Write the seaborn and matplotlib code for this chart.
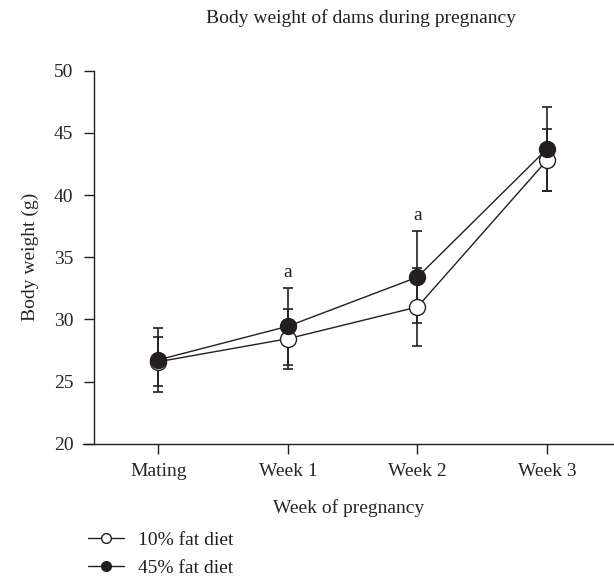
import numpy as np
import pandas as pd
import matplotlib
matplotlib.use("Agg")
import matplotlib.pyplot as plt
from matplotlib.lines import Line2D
import seaborn as sns

categories = ["Mating", "Week 1", "Week 2", "Week 3"]
low_fat_mean = [26.6, 28.45, 31.0, 42.8]
low_fat_sd = [1.95, 2.4, 3.15, 2.5]
high_fat_mean = [26.75, 29.45, 33.4, 43.7]
high_fat_sd = [2.6, 3.1, 3.7, 3.4]
series_names = ["10% fat diet", "45% fat diet"]
sig_marks = ["", "a", "a", ""]
y_ticks = [20, 25, 30, 35, 40, 45, 50]

sns.set_theme(style="white")
plt.rcParams["font.family"] = ["Liberation Serif", "DejaVu Serif"]
plt.rcParams["text.color"] = "#231f20"

FS = 14
fig = plt.figure(figsize=(6.14, 5.79), dpi=100)
ax = fig.add_axes([0.1358, 0.2335, 0.8642, 0.6444])

x = np.arange(len(categories))
df = pd.DataFrame({
    "pos": np.concatenate([x, x]),
    "weight": low_fat_mean + high_fat_mean,
    "diet": [series_names[0]] * 4 + [series_names[1]] * 4,
})

lw = 1.0
ax.errorbar(x, low_fat_mean, yerr=low_fat_sd, fmt="none", ecolor="#231f20",
            elinewidth=1.2, capsize=3.3, capthick=1.2, zorder=2)
ax.errorbar(x, high_fat_mean, yerr=high_fat_sd, fmt="none", ecolor="#231f20",
            elinewidth=1.2, capsize=3.3, capthick=1.2, zorder=2)

sns.lineplot(data=df[df.diet == series_names[0]], x="pos", y="weight", ax=ax,
             color="#231f20", marker="o", markersize=11.5, markerfacecolor="white",
             markeredgecolor="#231f20", markeredgewidth=1.0, linewidth=lw,
             legend=False, zorder=3)
sns.lineplot(data=df[df.diet == series_names[1]], x="pos", y="weight", ax=ax,
             color="#231f20", marker="o", markersize=11.5, markerfacecolor="#231f20",
             markeredgecolor="#231f20", markeredgewidth=1.0, linewidth=lw,
             legend=False, zorder=4)

for i, m in enumerate(sig_marks):
    if m:
        top = max(low_fat_mean[i] + low_fat_sd[i], high_fat_mean[i] + high_fat_sd[i])
        ax.text(x[i], top + 0.55, m, ha="center", va="bottom", fontsize=FS)

ax.set_xlim(-0.579, 3.518)
ax.set_ylim(20, 50)
ax.set_yticks(y_ticks)
ax.set_xticks(x)
ax.set_xticklabels(categories)
ax.tick_params(axis="both", direction="out", length=7.5, width=1.0, color="#231f20",
               labelsize=FS, left=True, bottom=True)
ax.tick_params(axis="y", pad=7)
ax.tick_params(axis="x", pad=6)

for s in ["top", "right"]:
    ax.spines[s].set_visible(False)
ax.spines["left"].set_position(("data", -0.5))
for s in ["left", "bottom"]:
    ax.spines[s].set_color("#231f20")
    ax.spines[s].set_linewidth(1.0)

ax.set_xlabel("Week of pregnancy", fontsize=FS, labelpad=14)
ax.set_ylabel("Body weight (g)", fontsize=FS, labelpad=11)
fig.text(0.588, 0.968, "Body weight of dams during pregnancy", ha="center",
         va="center", fontsize=FS)

handles = [
    Line2D([0], [0], color="#231f20", lw=1.0, marker="o", markersize=7,
           markerfacecolor="white", markeredgecolor="#231f20"),
    Line2D([0], [0], color="#231f20", lw=1.0, marker="o", markersize=7,
           markerfacecolor="#231f20", markeredgecolor="#231f20"),
]
fig.legend(handles, series_names, loc="upper left", bbox_to_anchor=(0.143, 0.083),
           frameon=False, fontsize=FS, handlelength=1.85, handletextpad=0.75,
           labelspacing=0.55, borderpad=0, borderaxespad=0)

fig.savefig("out.png", dpi=100, facecolor="white")
